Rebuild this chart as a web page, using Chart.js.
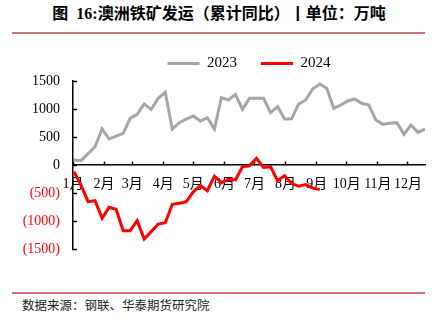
<!DOCTYPE html>
<html>
<head>
<meta charset="utf-8">
<script src="https://cdn.jsdelivr.net/npm/chart.js@4.4.1/dist/chart.umd.min.js"></script>
<style>
  html, body { margin: 0; padding: 0; background: #fff; }
  body { width: 438px; height: 331px; position: relative; overflow: hidden; }
  .title {
    position: absolute; left: 0; top: 4px; width: 438px; text-align: center;
    font: bold 16px 'Liberation Serif', 'Noto Sans CJK SC'; line-height: 20px; color: #000;
    white-space: pre;
  }
  .rule { position: absolute; left: 12px; width: 413px; height: 2px; background: #d27373; }
  .source {
    position: absolute; left: 22px; top: 297px;
    font: 12.5px 'Noto Sans CJK SC'; line-height: 16px; color: #222;
  }
  #wrap { position: absolute; left: 0; top: 20px; width: 438px; height: 260px; }
</style>
</head>
<body>
<div class="title">图  16:澳洲铁矿发运（累计同比）丨单位：万吨</div>
<div class="rule" style="top:32px"></div>
<div id="wrap"><canvas id="chart"></canvas></div>
<div class="rule" style="top:292px"></div>
<div class="source">数据来源：钢联、华泰期货研究院</div>

<script>
// month start (day of year) and its label
const monthDays = [0, 31, 59, 90, 120, 151, 181, 212, 243, 273, 304, 334]
const monthLabels = ['1月', '2月', '3月', '4月', '5月', '6月', '7月', '8月', '9月', '10月', '11月', '12月']

// weekly cumulative YoY, 万吨
const ship2023 = [
  89, 77, 200, 327, 643, 464, 515, 566, 833, 905,
  1089, 994, 1190, 1298, 643, 756, 821, 875, 786, 845,
  643, 1202, 1161, 1262, 994, 1190, 1190, 1190, 935, 1042,
  821, 827, 1089, 1161, 1357, 1446, 1369, 1012, 1071, 1143,
  1179, 1101, 1071, 804, 726, 744, 756, 548, 714, 583,
  643
]
const ship2024 = [
  -119, -360, -655, -637, -952, -756, -791, -1173, -1173, -994,
  -1321, -1190, -1054, -1030, -702, -684, -655, -480, -370, -458,
  -200, -315, -255, -268, -30, -15, 120, -45, -30, -280,
  -190, -330, -380, -350, -410, -440
]

const weekDay = (i) => 1 + 7 * i
const toPoints = (arr) => arr.map((v, i) => ({ x: weekDay(i), y: v }))

const serif = "'Liberation Serif', 'Noto Sans CJK SC'"

new Chart(document.getElementById('chart'), {
  type: 'line',
  data: {
    datasets: [
      {
        label: '2023',
        data: toPoints(ship2023),
        borderColor: '#a6a6a6',
        backgroundColor: '#a6a6a6',
        borderWidth: 3,
      },
      {
        label: '2024',
        data: toPoints(ship2024),
        borderColor: '#ff0000',
        backgroundColor: '#ff0000',
        borderWidth: 3,
      },
    ],
  },
  options: {
    responsive: true,
    maintainAspectRatio: false,
    animation: false,
    layout: { padding: { left: 0, right: 13, top: 12, bottom: 31 } },
    elements: {
      point: { radius: 0 },
      line: { tension: 0, borderJoinStyle: 'miter' },
    },
    plugins: {
      tooltip: { enabled: false },
      legend: {
        position: 'top',
        fullSize: false,
        labels: {
          usePointStyle: true,
          pointStyle: 'line',
          pointStyleWidth: 32,
          padding: 24,
          color: '#000',
          font: { family: serif, size: 15 },
        },
      },
    },
    scales: {
      x: {
        type: 'linear',
        position: { y: 0 },
        min: 0,
        max: 351,
        afterBuildTicks: (s) => {
          s.ticks = monthDays.map((v) => ({ value: v }))
        },
        afterFit: (s) => {
          s.height = 0
        },
        grid: { drawOnChartArea: false, tickLength: -4, color: '#000', tickWidth: 1.5 },
        border: { color: '#000', width: 1.5 },
        ticks: {
          autoSkip: false,
          maxRotation: 0,
          padding: 15,
          color: '#000',
          font: { family: serif, size: 14 },
          callback: (v) => monthLabels[monthDays.indexOf(v)],
        },
      },
      y: {
        min: -1500,
        max: 1500,
        afterFit: (s) => {
          s.width = 73
        },
        grid: { drawOnChartArea: false, tickLength: -4, color: '#000', tickWidth: 1.5 },
        border: { color: '#000', width: 1.5 },
        ticks: {
          stepSize: 500,
          padding: 17,
          font: { family: serif, size: 14 },
          color: (ctx) => (ctx.tick.value < 0 ? '#ff0000' : '#000'),
          callback: (v) => (v < 0 ? `(${-v})` : `${v}`),
        },
      },
    },
  },
})
</script>
</body>
</html>
